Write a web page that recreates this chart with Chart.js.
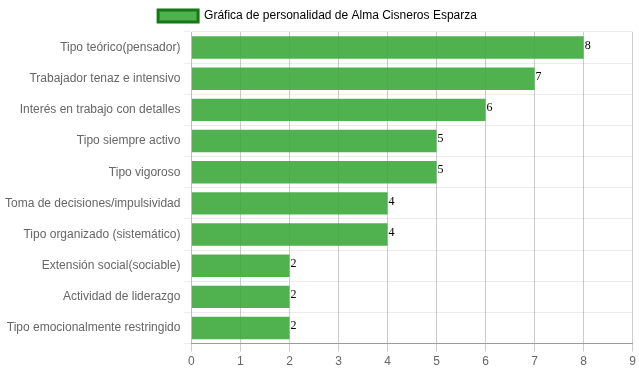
<!DOCTYPE html>
<html>
<head>
<meta charset="utf-8">
<script src="https://cdn.jsdelivr.net/npm/chart.js@4"></script>
<style>
  body { margin: 0; background: #fff; }
  #wrap { width: 639px; height: 372px; }
</style>
</head>
<body>
<div id="wrap"><canvas id="myChart"></canvas></div>
<script>
const categories = [
  "Tipo teórico(pensador)",
  "Trabajador tenaz e intensivo",
  "Interés en trabajo con detalles",
  "Tipo siempre activo",
  "Tipo vigoroso",
  "Toma de decisiones/impulsividad",
  "Tipo organizado (sistemático)",
  "Extensión social(sociable)",
  "Actividad de liderazgo",
  "Tipo emocionalmente restringido"
];
const scores = [8, 7, 6, 5, 5, 4, 4, 2, 2, 2];
const seriesName = "Gráfica de personalidad de Alma Cisneros Esparza";

// write the value just past the end of each bar
const valueLabels = {
  id: "valueLabels",
  afterDatasetsDraw(chart) {
    const ctx = chart.ctx;
    ctx.save();
    ctx.font = "12px 'Liberation Serif', serif";
    ctx.fillStyle = "#000";
    ctx.textAlign = "left";
    ctx.textBaseline = "middle";
    chart.getDatasetMeta(0).data.forEach((bar, i) => {
      ctx.fillText(scores[i], bar.x + 1, bar.y - 2);
    });
    ctx.restore();
  }
};

Chart.defaults.font.family = "'Liberation Sans', Arial, sans-serif";
Chart.defaults.font.size = 12;
Chart.defaults.color = "#666";

new Chart(document.getElementById("myChart"), {
  type: "bar",
  data: {
    labels: categories,
    datasets: [
      {
        label: seriesName,
        data: scores,
        backgroundColor: "rgba(60,170,60,0.9)",
        borderColor: "rgb(20,120,20)",
        borderWidth: 0
      }
    ]
  },
  options: {
    indexAxis: "y",
    responsive: true,
    maintainAspectRatio: false,
    animation: false,
    layout: { padding: { left: 2, right: 6, top: 0, bottom: 0 } },
    plugins: {
      legend: {
        labels: {
          boxWidth: 40,
          padding: 10,
          generateLabels(chart) {
            return [{
              text: seriesName,
              fillStyle: "rgba(60,170,60,0.9)",
              strokeStyle: "rgb(20,120,20)",
              lineWidth: 3,
              datasetIndex: 0
            }];
          }
        }
      },
      tooltip: { enabled: false }
    },
    scales: {
      x: {
        min: 0,
        max: 9,
        ticks: { stepSize: 1 },
        grid: { color: "rgba(0,0,0,0.2)" },
        border: { color: "rgba(0,0,0,0.35)" }
      },
      y: {
        grid: { color: "rgba(0,0,0,0.07)" },
        border: { color: "rgba(0,0,0,0.07)" }
      }
    }
  },
  plugins: [valueLabels]
});
</script>
</body>
</html>
